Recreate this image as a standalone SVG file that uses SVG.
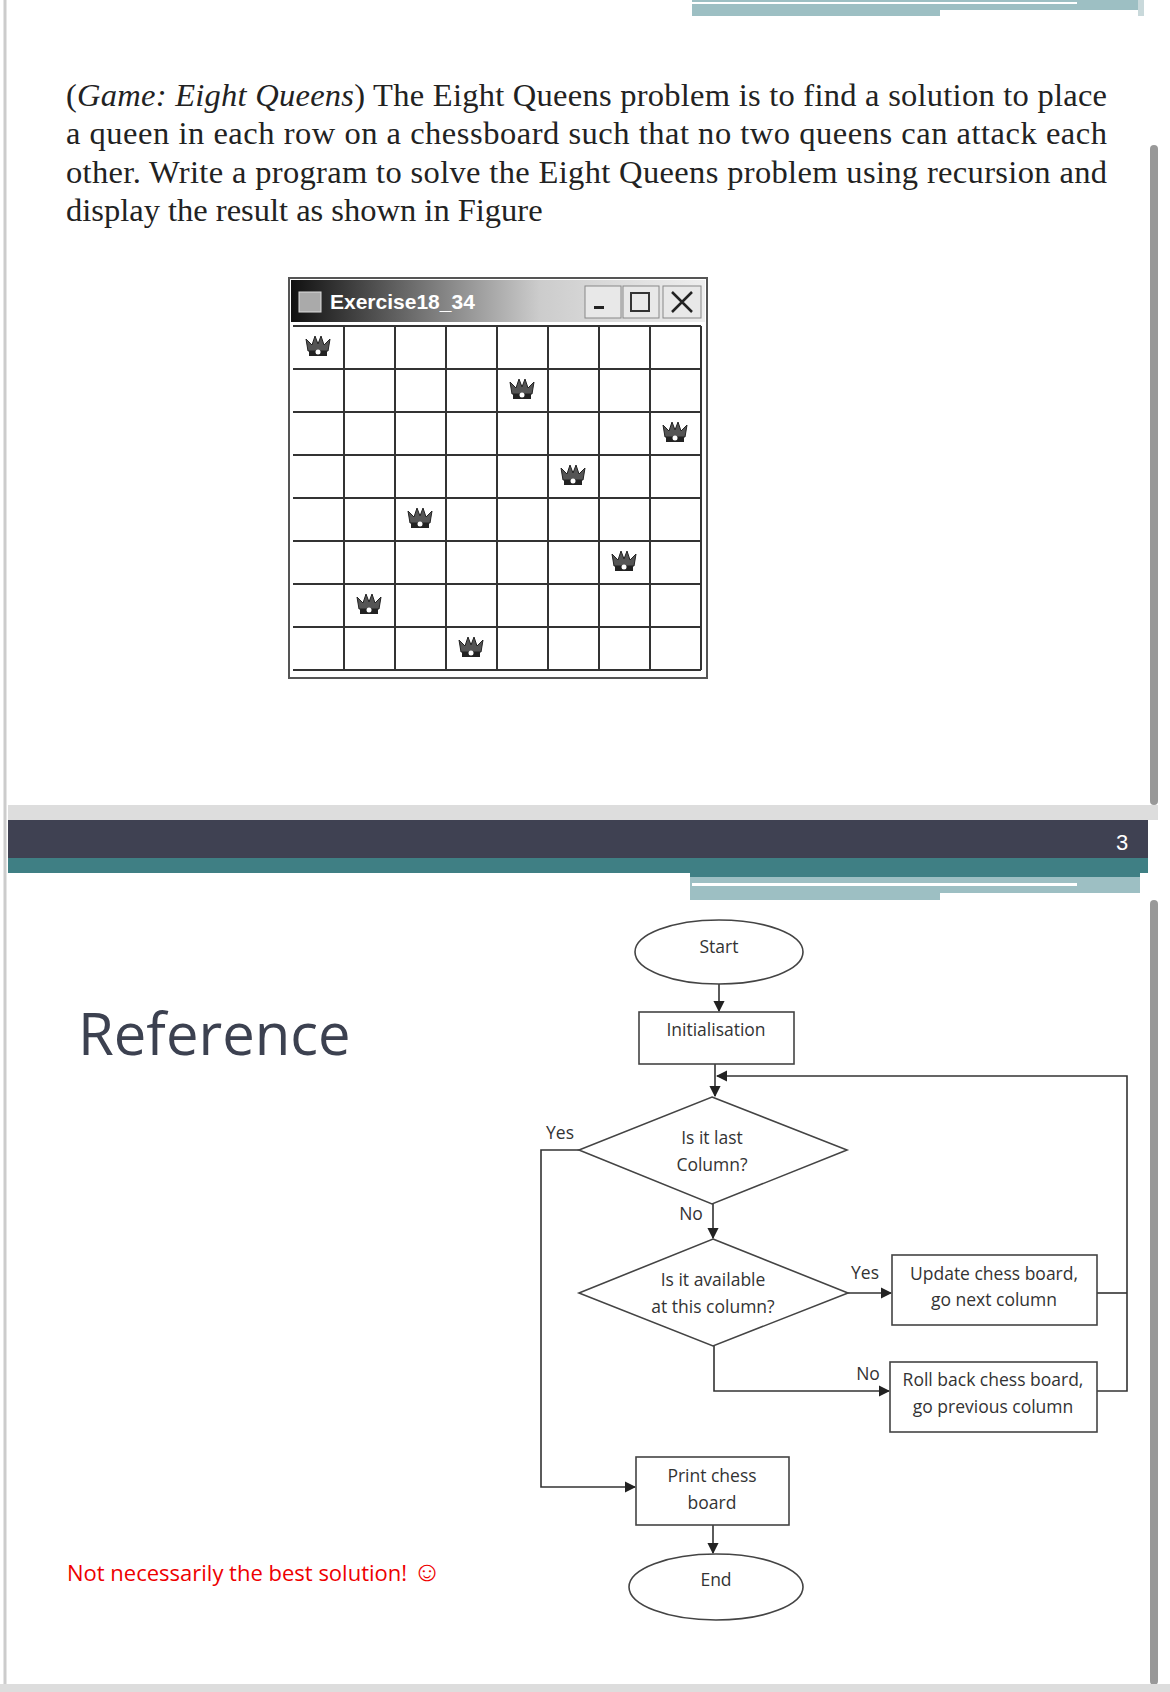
<svg xmlns="http://www.w3.org/2000/svg" width="1170" height="1692" viewBox="0 0 1170 1692">
<style>
.body{font-family:"Liberation Serif",serif;font-size:32.5px;fill:#222}
.fc{font-family:"Open Sans","Liberation Sans",sans-serif;font-size:17.5px;fill:#333;text-anchor:middle}
.shape{fill:#fff;stroke:#444;stroke-width:1.6}
.conn{fill:none;stroke:#333;stroke-width:1.6}
.grid{stroke:#333;stroke-width:2}
</style>
<defs>
<marker id="ar" viewBox="0 0 10 10" refX="9" refY="5" markerWidth="7" markerHeight="7" orient="auto"><path d="M0,0 L10,5 L0,10 z" fill="#222"/></marker>
<g id="queen"><path d="M-10,6 L-12,-6 L-6,0 L-3,-9 L0,-1 L3,-9 L6,0 L12,-6 L10,6 z" fill="#555" stroke="#222" stroke-width="1"/><rect x="-9" y="6" width="18" height="5" fill="#222"/><circle cx="0" cy="7" r="2.5" fill="#fff"/></g>
<linearGradient id="tb" x1="0" x2="1"><stop offset="0" stop-color="#111"/><stop offset="0.6" stop-color="#ccc"/><stop offset="1" stop-color="#eee"/></linearGradient>
</defs>
<rect width="1170" height="1692" fill="#fff"/>
<line x1="5" y1="0" x2="5" y2="1692" stroke="#ccc" stroke-width="3"/>
<!-- top decoration -->
<rect x="692" y="0" width="448" height="16" fill="#9dbfc3"/>
<rect x="692" y="2" width="385" height="2" fill="#fff"/>
<rect x="940" y="10" width="200" height="6" fill="#fff"/>
<rect x="1138" y="0" width="6" height="16" fill="#c9d9db"/>
<rect x="1150" y="145" width="8" height="660" rx="4" fill="#999"/>
<!-- problem text -->
<text class="body" x="66" y="106" textLength="1041" lengthAdjust="spacing">(<tspan font-style="italic">Game: Eight Queens</tspan>) The Eight Queens problem is to find a solution to place</text>
<text class="body" x="66" y="144" textLength="1041" lengthAdjust="spacing">a queen in each row on a chessboard such that no two queens can attack each</text>
<text class="body" x="66" y="183" textLength="1041" lengthAdjust="spacing">other. Write a program to solve the Eight Queens problem using recursion and</text>
<text class="body" x="66" y="221">display the result as shown in Figure</text>
<!-- window -->
<g id="window">
<rect x="289" y="278" width="418" height="400" fill="#fff" stroke="#555" stroke-width="2"/>
<rect x="291" y="280" width="414" height="42" fill="url(#tb)"/>
<rect x="299" y="292" width="22" height="20" fill="#aaa" stroke="#ddd"/>
<text x="330" y="309" font-family="Liberation Sans,sans-serif" font-size="21" font-weight="bold" fill="#fff">Exercise18_34</text>
<rect x="585" y="286" width="36" height="32" fill="#e8e8e8" stroke="#888"/><rect x="594" y="306" width="10" height="3" fill="#222"/>
<rect x="623" y="286" width="36" height="32" fill="#e8e8e8" stroke="#888"/><rect x="631" y="293" width="18" height="18" fill="none" stroke="#333" stroke-width="2"/>
<rect x="663" y="286" width="38" height="32" fill="#e8e8e8" stroke="#888"/><path d="M672,292 L692,312 M692,292 L672,312" stroke="#222" stroke-width="2.5"/>
<g class="grid">
<line x1="293" y1="326" x2="701" y2="326"/><line x1="293" y1="369" x2="701" y2="369"/><line x1="293" y1="412" x2="701" y2="412"/><line x1="293" y1="455" x2="701" y2="455"/><line x1="293" y1="498" x2="701" y2="498"/><line x1="293" y1="541" x2="701" y2="541"/><line x1="293" y1="584" x2="701" y2="584"/><line x1="293" y1="627" x2="701" y2="627"/><line x1="293" y1="670" x2="701" y2="670"/>
<line x1="344" y1="326" x2="344" y2="670"/><line x1="395" y1="326" x2="395" y2="670"/><line x1="446" y1="326" x2="446" y2="670"/><line x1="497" y1="326" x2="497" y2="670"/><line x1="548" y1="326" x2="548" y2="670"/><line x1="599" y1="326" x2="599" y2="670"/><line x1="650" y1="326" x2="650" y2="670"/><line x1="701" y1="326" x2="701" y2="670"/>
</g>
<use href="#queen" x="318" y="345"/><use href="#queen" x="522" y="388"/><use href="#queen" x="675" y="431"/><use href="#queen" x="573" y="474"/><use href="#queen" x="420" y="517"/><use href="#queen" x="624" y="560"/><use href="#queen" x="369" y="603"/><use href="#queen" x="471" y="646"/>
</g>
<!-- slide band -->
<rect x="8" y="805" width="1150" height="15" fill="#ddd"/>
<rect x="8" y="820" width="1140" height="38" fill="#3f4152"/>
<text x="1122" y="850" font-family="Liberation Sans,sans-serif" font-size="22" fill="#fff" text-anchor="middle">3</text>
<rect x="8" y="858" width="1140" height="15" fill="#3f7f84"/>
<rect x="690" y="858" width="450" height="19" fill="#3f7f84"/>
<rect x="690" y="877" width="450" height="23" fill="#9dbfc3"/>
<rect x="692" y="883" width="385" height="3" fill="#fff"/>
<rect x="940" y="893" width="200" height="7" fill="#fff"/>
<rect x="1150" y="900" width="8" height="785" rx="4" fill="#999"/>
<rect x="0" y="1684" width="1170" height="8" fill="#ddd"/>
<!-- left text -->
<text x="78" y="1055" font-family="Open Sans,Liberation Sans,sans-serif" font-size="58" fill="#3c4150">Reference</text>
<text x="67" y="1581" font-family="Open Sans,Liberation Sans,sans-serif" font-size="22" fill="#e00">Not necessarily the best solution! <tspan font-size="28">☺</tspan></text>
<!-- flowchart -->
<g id="connectors" class="conn">
<line x1="719" y1="984" x2="719" y2="1011" marker-end="url(#ar)"/>
<line x1="715" y1="1064" x2="715" y2="1096" marker-end="url(#ar)"/>
<polyline points="1097,1293 1127,1293"/>
<polyline points="1097,1391 1127,1391 1127,1076 717,1076" marker-end="url(#ar)"/>
<polyline points="579,1150 541,1150 541,1487 635,1487" marker-end="url(#ar)"/>
<line x1="713" y1="1204" x2="713" y2="1238" marker-end="url(#ar)"/>
<line x1="848" y1="1293" x2="891" y2="1293" marker-end="url(#ar)"/>
<polyline points="714,1346 714,1391 889,1391" marker-end="url(#ar)"/>
<line x1="713" y1="1525" x2="713" y2="1553" marker-end="url(#ar)"/>
</g>
<g id="start"><ellipse class="shape" cx="719" cy="952" rx="84" ry="32"/><text class="fc" x="719" y="953">Start</text></g>
<g id="init"><rect class="shape" x="639" y="1012" width="155" height="52"/><text class="fc" x="716" y="1036">Initialisation</text></g>
<g id="d1"><polygon class="shape" points="712,1097 847,1150 712,1204 579,1150"/><text class="fc" x="712" y="1144">Is it last</text><text class="fc" x="712" y="1171">Column?</text></g>
<g id="d2"><polygon class="shape" points="713,1239 848,1293 713,1346 579,1293"/><text class="fc" x="713" y="1286">Is it available</text><text class="fc" x="713" y="1313">at this column?</text></g>
<g id="update"><rect class="shape" x="892" y="1255" width="205" height="70"/><text class="fc" x="994" y="1280">Update chess board,</text><text class="fc" x="994" y="1306">go next column</text></g>
<g id="rollback"><rect class="shape" x="890" y="1362" width="207" height="70"/><text class="fc" x="993" y="1386">Roll back chess board,</text><text class="fc" x="993" y="1413">go previous column</text></g>
<g id="print"><rect class="shape" x="636" y="1457" width="153" height="68"/><text class="fc" x="712" y="1482">Print chess</text><text class="fc" x="712" y="1509">board</text></g>
<g id="end"><ellipse class="shape" cx="716" cy="1587" rx="87" ry="33"/><text class="fc" x="716" y="1586">End</text></g>
<text class="fc" x="560" y="1139">Yes</text>
<text class="fc" x="691" y="1220">No</text>
<text class="fc" x="865" y="1279">Yes</text>
<text class="fc" x="868" y="1380">No</text>
</svg>
